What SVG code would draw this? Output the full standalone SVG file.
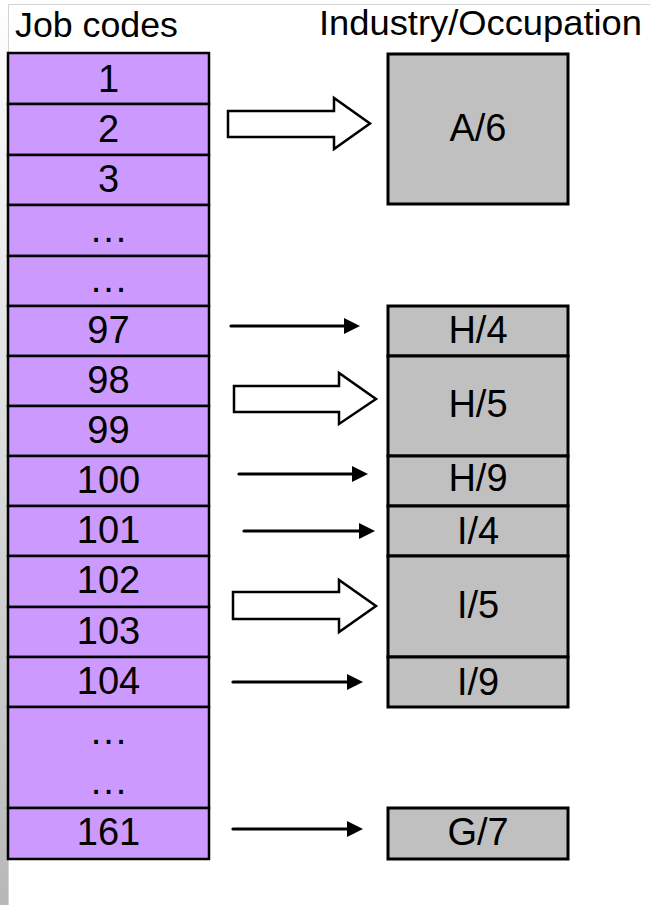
<svg xmlns="http://www.w3.org/2000/svg" width="650" height="905" viewBox="0 0 650 905">
  <style>
    .hdr { font-family: "Liberation Sans", Arial, sans-serif; font-size: 35px; fill: #000; }
    .lbl { font-family: "Liberation Sans", Arial, sans-serif; font-size: 38px; fill: #000; text-anchor: middle; }
    .dots { font-family: "Liberation Sans", Arial, sans-serif; font-size: 38px; fill: #000; text-anchor: middle; letter-spacing: 2px; }
    .code { fill: #cc99ff; stroke: #000; stroke-width: 2.5; }
    .grp { fill: #c0c0c0; stroke: #000; stroke-width: 3; }
    .block { fill: #fff; stroke: #000; stroke-width: 2.5; stroke-linejoin: miter; }
    .thin { fill: none; stroke: #000; stroke-width: 3.2; stroke-linecap: round; marker-end: url(#head); }
  </style>
  <defs>
    <linearGradient id="edge" x1="0" y1="0" x2="0" y2="1">
      <stop offset="0" stop-color="#ffffff"/>
      <stop offset="1" stop-color="#b8b8b8"/>
    </linearGradient>
    <marker id="head" markerUnits="userSpaceOnUse" markerWidth="16" markerHeight="16" refX="4" refY="8" orient="auto">
      <path d="M0,0 L16,8 L0,16 z" fill="#000"/>
    </marker>
  </defs>

  <rect width="650" height="905" fill="#fff"/>
  <!-- window frame -->
  <rect x="0" y="0" width="8" height="905" fill="url(#edge)"/>
  <path d="M8.5,905 V4.5 H650" fill="none" stroke="#d4d4d4" stroke-width="1"/>

  <!-- headers -->
  <text class="hdr" x="15" y="37" textLength="163" lengthAdjust="spacingAndGlyphs">Job codes</text>
  <text class="hdr" x="319" y="35" textLength="323" lengthAdjust="spacingAndGlyphs">Industry/Occupation</text>

  <!-- job code column -->
  <g id="code-1"><rect class="code" x="8" y="53" width="201" height="51"/><text class="lbl" x="108.5" y="92">1</text></g>
  <g id="code-2"><rect class="code" x="8" y="104" width="201" height="51"/><text class="lbl" x="108.5" y="142">2</text></g>
  <g id="code-3"><rect class="code" x="8" y="155" width="201" height="50"/><text class="lbl" x="108.5" y="192">3</text></g>
  <g id="code-gap-a"><rect class="code" x="8" y="205" width="201" height="51"/><text class="dots" x="109.5" y="242">...</text></g>
  <g id="code-gap-b"><rect class="code" x="8" y="256" width="201" height="50"/><text class="dots" x="109.5" y="292">...</text></g>
  <g id="code-97"><rect class="code" x="8" y="306" width="201" height="50"/><text class="lbl" x="108.5" y="343">97</text></g>
  <g id="code-98"><rect class="code" x="8" y="356" width="201" height="50"/><text class="lbl" x="108.5" y="393">98</text></g>
  <g id="code-99"><rect class="code" x="8" y="406" width="201" height="50"/><text class="lbl" x="108.5" y="443">99</text></g>
  <g id="code-100"><rect class="code" x="8" y="456" width="201" height="50"/><text class="lbl" x="108.5" y="493">100</text></g>
  <g id="code-101"><rect class="code" x="8" y="506" width="201" height="50"/><text class="lbl" x="108.5" y="543">101</text></g>
  <g id="code-102"><rect class="code" x="8" y="556" width="201" height="51"/><text class="lbl" x="108.5" y="593">102</text></g>
  <g id="code-103"><rect class="code" x="8" y="607" width="201" height="50"/><text class="lbl" x="108.5" y="644">103</text></g>
  <g id="code-104"><rect class="code" x="8" y="657" width="201" height="50"/><text class="lbl" x="108.5" y="694">104</text></g>
  <g id="code-gap-c"><rect class="code" x="8" y="707" width="201" height="101"/><text class="dots" x="109.5" y="744">...</text><text class="dots" x="109.5" y="794">...</text></g>
  <g id="code-161"><rect class="code" x="8" y="808" width="201" height="51"/><text class="lbl" x="108.5" y="845">161</text></g>

  <!-- industry/occupation groups -->
  <g id="grp-A6"><rect class="grp" x="388" y="54" width="180" height="150"/><text class="lbl" x="478" y="141">A/6</text></g>
  <g id="grp-H4"><rect class="grp" x="388" y="306" width="180" height="50"/><text class="lbl" x="478" y="343">H/4</text></g>
  <g id="grp-H5"><rect class="grp" x="388" y="356" width="180" height="100"/><text class="lbl" x="478" y="417">H/5</text></g>
  <g id="grp-H9"><rect class="grp" x="388" y="456" width="180" height="50"/><text class="lbl" x="478" y="491">H/9</text></g>
  <g id="grp-I4"><rect class="grp" x="388" y="506" width="180" height="50"/><text class="lbl" x="478" y="544">I/4</text></g>
  <g id="grp-I5"><rect class="grp" x="388" y="556" width="180" height="101"/><text class="lbl" x="478" y="618">I/5</text></g>
  <g id="grp-I9"><rect class="grp" x="388" y="657" width="180" height="50"/><text class="lbl" x="478" y="695">I/9</text></g>
  <g id="grp-G7"><rect class="grp" x="388" y="808" width="180" height="51"/><text class="lbl" x="478" y="845">G/7</text></g>

  <!-- mappings -->
  <g id="connectors">
    <path class="block" d="M228,111 H334 V98 L370,123.5 L334,149 V137 H228 Z"/>
    <path class="block" d="M234,386 H339 V373 L376,399 L339,424 V412 H234 Z"/>
    <path class="block" d="M233,592 H339 V580 L376,606 L339,632 V619 H233 Z"/>
    <path class="thin" d="M231,326 H348"/>
    <path class="thin" d="M239,474 H356"/>
    <path class="thin" d="M244,531 H363"/>
    <path class="thin" d="M233,682 H351"/>
    <path class="thin" d="M233,829 H351"/>
  </g>
</svg>
